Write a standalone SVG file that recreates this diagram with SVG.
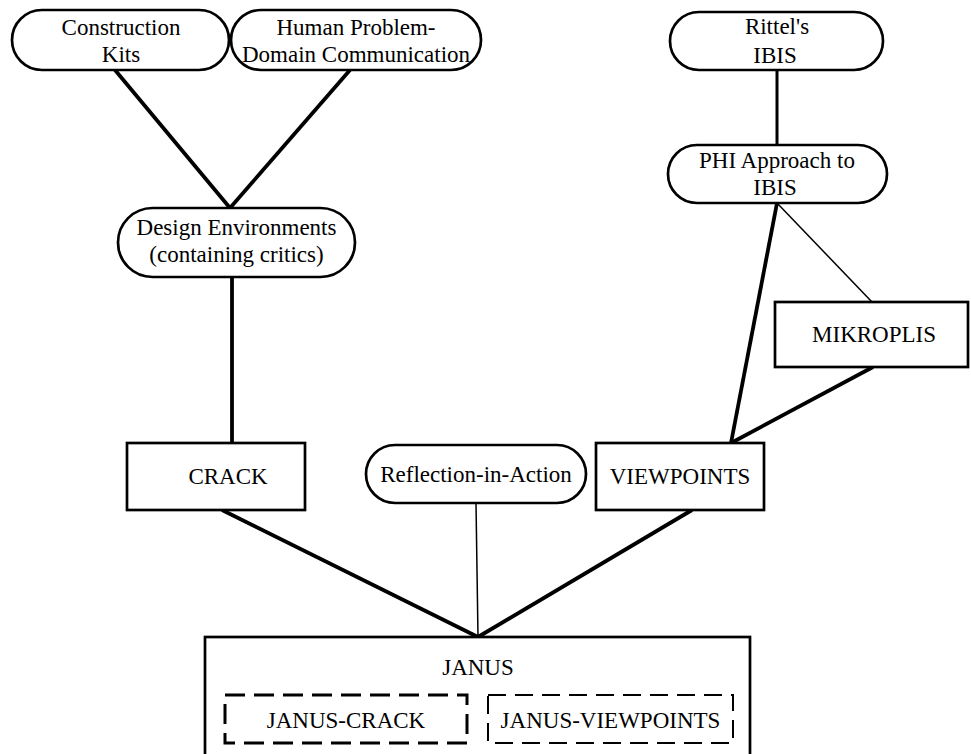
<svg xmlns="http://www.w3.org/2000/svg" width="971" height="754" viewBox="0 0 971 754">
<style>
text{font-family:"Liberation Serif","Times New Roman",serif;font-size:23px;fill:#000;text-anchor:middle}
.n{fill:#fff;stroke:#000;stroke-width:2.7}
.thick{stroke:#000;stroke-width:3.8;fill:none}
.mid{stroke:#000;stroke-width:3;fill:none}
.thin{stroke:#000;stroke-width:1.5;fill:none}
.d1{fill:none;stroke:#000;stroke-width:3;stroke-dasharray:20 9}
.d2{fill:none;stroke:#000;stroke-width:2;stroke-dasharray:18 9}
</style>
<rect width="971" height="754" fill="#fff"/>
<g id="connectors">
<line class="thick" x1="115" y1="70" x2="230" y2="208"/>
<line class="thick" x1="350" y1="70" x2="230" y2="208"/>
<line class="mid" x1="777" y1="70" x2="777" y2="145"/>
<line class="thick" x1="777" y1="203" x2="731" y2="443"/>
<line class="thin" x1="777" y1="203" x2="872" y2="302"/>
<line class="thick" x1="873" y1="367" x2="731" y2="443"/>
<line class="thick" x1="232" y1="277" x2="232" y2="443"/>
<line class="thick" x1="222" y1="510" x2="478" y2="637"/>
<line class="thin" x1="476" y1="503" x2="478" y2="637"/>
<line class="thick" x1="692" y1="510" x2="478" y2="637"/>
</g>
<g id="construction-kits">
<rect class="n" x="12" y="10" width="217" height="60" rx="30"/>
<text x="121" y="35">Construction</text>
<text x="121" y="62">Kits</text>
</g>
<g id="human-problem">
<rect class="n" x="231" y="10" width="250" height="60" rx="30"/>
<text x="356" y="35">Human Problem-</text>
<text x="356" y="62">Domain Communication</text>
</g>
<g id="rittels-ibis">
<rect class="n" x="670" y="12" width="213" height="58" rx="29"/>
<text x="777" y="34">Rittel's</text>
<text x="775" y="63">IBIS</text>
</g>
<g id="phi-approach">
<rect class="n" x="668" y="145" width="219" height="58" rx="29"/>
<text x="777" y="168">PHI Approach to</text>
<text x="775" y="195">IBIS</text>
</g>
<g id="design-environments">
<rect class="n" x="118" y="208" width="237" height="69" rx="34.5"/>
<text x="236.5" y="235">Design Environments</text>
<text x="236.5" y="262">(containing critics)</text>
</g>
<g id="mikroplis">
<rect class="n" x="775" y="302" width="193" height="65"/>
<text x="874" y="342">MIKROPLIS</text>
</g>
<g id="crack">
<rect class="n" x="127" y="443" width="178" height="67"/>
<text x="228" y="484">CRACK</text>
</g>
<g id="reflection-in-action">
<rect class="n" x="366" y="445" width="220" height="58" rx="29"/>
<text x="476" y="482">Reflection-in-Action</text>
</g>
<g id="viewpoints">
<rect class="n" x="596" y="443" width="168" height="67"/>
<text x="680" y="484">VIEWPOINTS</text>
</g>
<g id="janus">
<rect class="n" x="205" y="637" width="545" height="130"/>
<text x="478" y="675">JANUS</text>
<g id="janus-crack">
<rect class="d1" x="225" y="695" width="242" height="48"/>
<text x="346" y="728">JANUS-CRACK</text>
</g>
<g id="janus-viewpoints">
<rect class="d2" x="488" y="695" width="245" height="48"/>
<text x="610.5" y="728">JANUS-VIEWPOINTS</text>
</g>
</g>
</svg>
